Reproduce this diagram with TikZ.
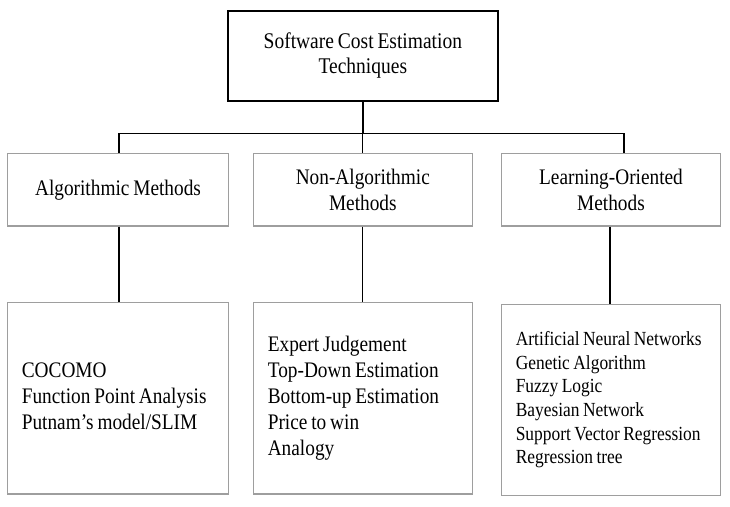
\documentclass[tikz,border=0pt]{standalone}
\usepackage{fontspec}
\setmainfont{Liberation Serif}[FakeStretch=0.87,WordSpace=0.8]
\newcommand{\leaflines}[2]{\makebox[#1][l]{\begin{tabular}{@{}l@{}}#2\end{tabular}}}
\begin{document}
\begin{tikzpicture}[x=1pt,y=-1pt,
  topbox/.style={draw=black,line width=2pt,fill=white,minimum width=270pt,minimum height=90pt,inner sep=0pt,align=center,
    font=\fontsize{22.4}{25}\selectfont},
  midbox/.style={draw=black!38,line width=1.2pt,minimum height=72.7pt,inner sep=0pt,align=center,
    font=\fontsize{22.2}{26}\selectfont},
  leafbox/.style={draw=black!38,line width=1.2pt,minimum height=191.7pt,inner xsep=14.5pt,inner ysep=0pt},
  conn/.style={draw=black,line width=1.3pt}]
\useasboundingbox (0,0) rectangle (730,506);
\node[topbox] (top) at (362.85,55.85) {Software Cost Estimation\\Techniques};
\node[midbox,minimum width=221.4pt] (alg) at (118,189.7) {Algorithmic Methods};
\node[midbox,minimum width=219pt] (nonalg) at (362.8,189.7) {Non-Algorithmic\\Methods};
\node[midbox,minimum width=219.4pt] (lrn) at (611,189.7) {Learning-Oriented\\Methods};
\node[leafbox,font=\fontsize{22.2}{25.8}\selectfont] (algl) at (118,398.2)
  {\leaflines{192.4pt}{COCOMO\\Function Point Analysis\\Putnam’s model/SLIM}};
\node[leafbox,font=\fontsize{22.2}{26.1}\selectfont] (nonalgl) at (362.8,398.2)
  {\leaflines{190pt}{Expert Judgement\\Top-Down Estimation\\Bottom-up Estimation\\Price to win\\Analogy}};
\node[leafbox,font=\fontsize{20}{23.7}\selectfont] (lrnl) at (611,400)
  {\leaflines{190.4pt}{Artificial Neural Networks\\Genetic Algorithm\\Fuzzy Logic\\Bayesian Network\\Support Vector Regression\\Regression tree}};
\coordinate (bl) at (119,133.3);
\coordinate (br) at (624,133.3);
\coordinate (rx) at (610,0);
\draw[conn] (top.south) -- (top.south |- bl);
\draw[conn] (bl) -- (br);
\draw[conn] (bl) -- (bl |- alg.north);
\draw[conn] (nonalg.north |- bl) -- (nonalg.north);
\draw[conn] (br) -- (br |- lrn.north);
\draw[conn] (alg.south -| bl) -- (algl.north -| bl);
\draw[conn] (nonalg.south) -- (nonalgl.north);
\draw[conn] (lrn.south -| rx) -- (lrnl.north -| rx);
\end{tikzpicture}
\end{document}
